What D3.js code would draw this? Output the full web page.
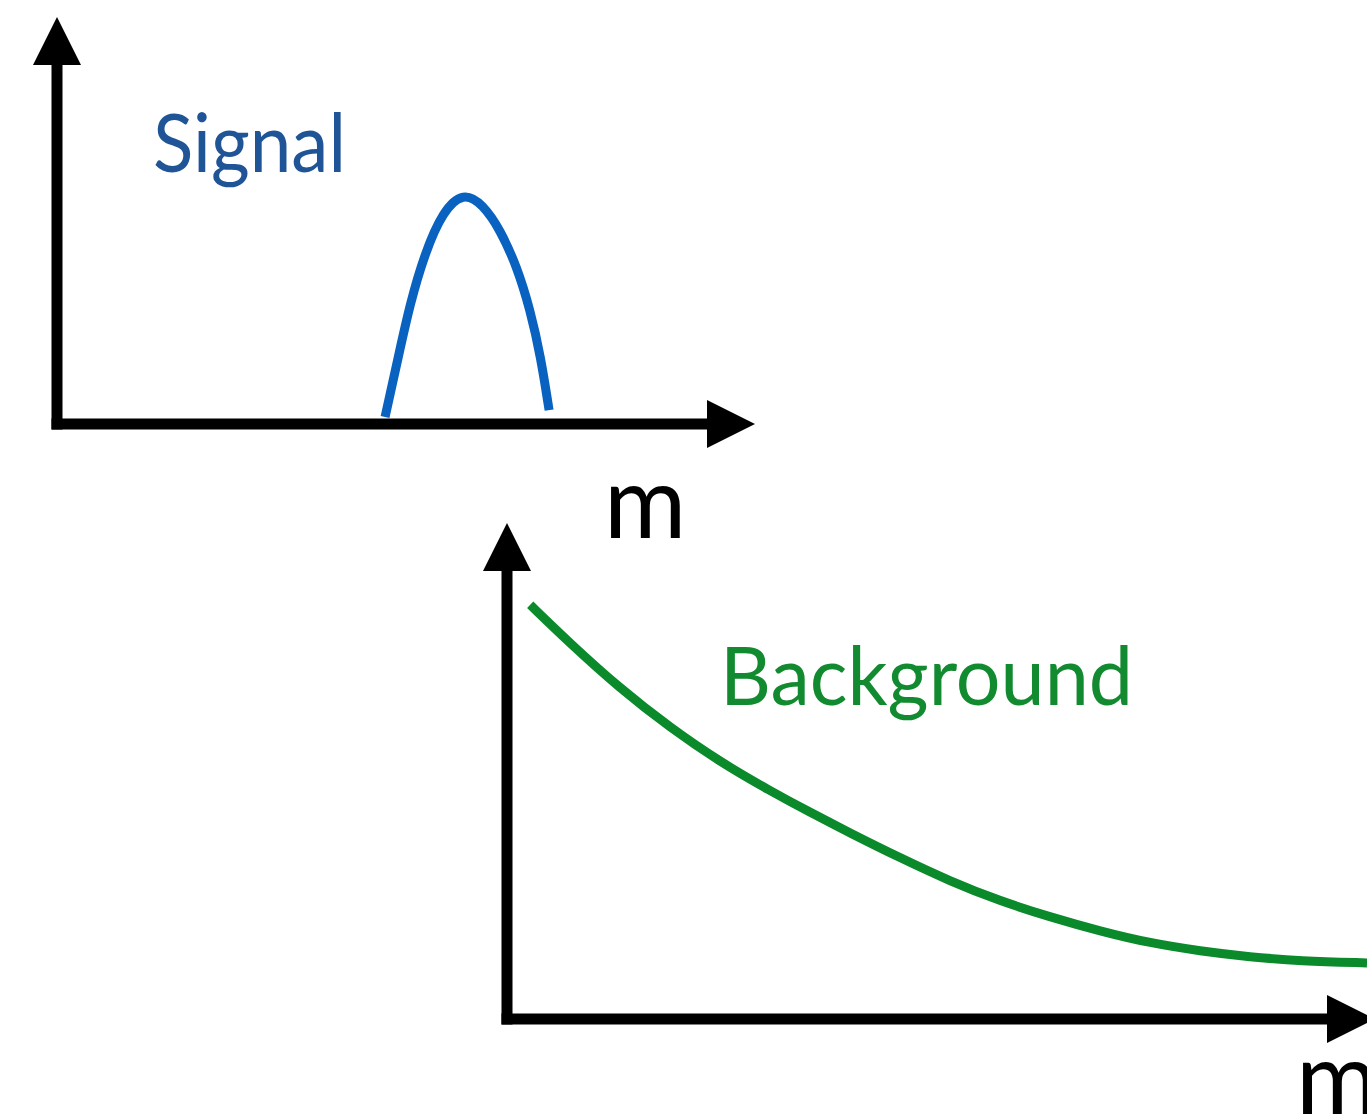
<!DOCTYPE html>
<html>
<head>
<meta charset="utf-8">
<script src="https://cdn.jsdelivr.net/npm/d3@7"></script>
<style>
  html, body { margin: 0; padding: 0; background: #fff; overflow: hidden; }
</style>
</head>
<body>
<div id="plot"></div>
<script>
// signal shape (m, height) on a 0-100 scale for both axes
var signal_m = [47.0, 48.9, 50.6, 52.7, 55.3, 58.2, 61.0, 63.5, 65.9, 67.8, 69.3, 70.5];
var signal_h = [1.7, 16.5, 29.7, 42.0, 52.3, 57.0, 54.0, 47.7, 38.6, 28.0, 16.5, 3.4];

// background shape, falling with m
var background_m = [2.7, 7.3, 13.1, 19.0, 24.8, 30.6, 35.2, 39.9, 45.7, 51.5, 57.3, 63.1, 69.0, 74.8, 80.6, 86.4, 92.2, 100];
var background_h = [83.5, 75.8, 66.7, 58.7, 51.8, 46.0, 41.7, 37.5, 32.5, 27.8, 23.8, 20.6, 17.7, 15.3, 13.7, 12.5, 11.7, 11.3];

var labels = ["Signal", "Background"];
var axis_label = "m";

const total_width = 1367
const total_height = 1119

var svg = d3.select("#plot").append("svg").attr("width", total_width).attr("height", total_height);

function draw_panel(p) {
    var g = svg.append("g");
    var x = d3.scaleLinear().domain([0, 100]).range([p.x0, p.x1]);
    var y = d3.scaleLinear().domain([0, 100]).range([p.y0, p.y1]);
    var lw = 11, head = 48, half = 24;

    // axes with arrow heads
    g.append("line").attr("x1", x(0)).attr("y1", y(0) + lw/2).attr("x2", x(0)).attr("y2", p.ytip + head - 1)
    .attr("stroke", "#000").attr("stroke-width", lw);
    g.append("line").attr("x1", x(0) - lw/2).attr("y1", y(0)).attr("x2", p.xtip - head + 1).attr("y2", y(0))
    .attr("stroke", "#000").attr("stroke-width", lw);
    g.append("path").attr("fill", "#000")
    .attr("d", "M" + x(0) + "," + p.ytip + "L" + (x(0) + half) + "," + (p.ytip + head) + "L" + (x(0) - half) + "," + (p.ytip + head) + "Z");
    g.append("path").attr("fill", "#000")
    .attr("d", "M" + p.xtip + "," + y(0) + "L" + (p.xtip - head) + "," + (y(0) - half) + "L" + (p.xtip - head) + "," + (y(0) + half) + "Z");

    var data = p.m.map(function(d, i) {return {m: d, h: p.h[i]}});
    g.append("path").datum(data)
    .attr("d", d3.line()
        .x(function(d) {return x(d.m)})
        .y(function(d) {return y(d.h)})
        .curve(d3.curveBasis))
    .attr("fill", "none")
    .attr("stroke", p.color)
    .attr("stroke-width", 9);

    g.append("text").attr("x", p.lx).attr("y", p.ly)
    .attr("font-family", "'Lato', 'Open Sans', sans-serif").attr("font-size", 82)
    .attr("fill", p.text_color)
    .attr("textLength", p.lw).attr("lengthAdjust", "spacingAndGlyphs")
    .text(p.label);

    g.append("text").attr("x", p.mx).attr("y", p.my)
    .attr("font-family", "'Lato', 'Open Sans', sans-serif").attr("font-size", 100)
    .attr("fill", "#000")
    .text(axis_label);
}

draw_panel({x0: 57, x1: 755, y0: 424, y1: 17, ytip: 17, xtip: 755,
    m: signal_m, h: signal_h, color: "#0a62c0", text_color: "#1f5597",
    label: labels[0], lx: 153, ly: 172, lw: 193, mx: 604, my: 538});

draw_panel({x0: 507, x1: 1367, y0: 1019, y1: 523, ytip: 523, xtip: 1375,
    m: background_m, h: background_h, color: "#0b8a2b", text_color: "#128b30",
    label: labels[1], lx: 720, ly: 705, lw: 413, mx: 1296, my: 1114});
</script>
</body>
</html>
